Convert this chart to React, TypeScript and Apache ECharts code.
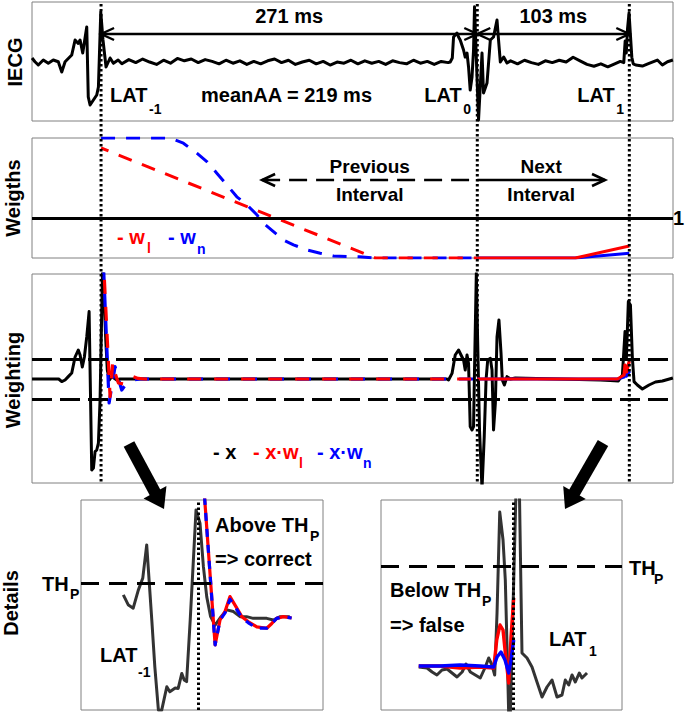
import React, { useEffect, useRef } from "react";
import * as echarts from "echarts";

// ---------- annotation values ----------
const LAT_MS = [0, 271, 380.5]; // LAT-1, LAT0, LAT1 on the time axis (ms)
const LAT_SUBS = ["-1", "0", "1"];
const INTERVAL_LABELS = ["271 ms", "103 ms"];
const MEAN_AA = "meanAA = 219 ms";
const PREV_ARROW_FROM = 116; // ms, tip of "Previous Interval" arrow
const NEXT_ARROW_TO = 363; // ms, tip of "Next Interval" arrow
const WEIGHT_REF = 1;
const TH_P = 1;

// ---------- panel 1 : raw IECG [ms, a.u.] ----------
const iecg: number[][] = [
  [-49.7, 0.67], [-47.6, 0.05], [-45.2, -0.5], [-41.6, 0.33], [-38.0, -0.22], [-34.4, 0.33], [-30.8, 0.05],
  [-28.3, -1.67], [-25.9, 0.05], [-21.1, 1.17], [-18.7, 3.67], [-16.4, 3.1], [-15.1, 3.67], [-13.2, 1.5],
  [-10.3, 5.83], [-9.2, -5.83], [-7.9, -7.17], [-5.5, -6.33], [-3.1, -5.5], [-1.9, -4.17], [-0.2, 8.33],
  [1.4, 3.67], [3.6, -0.83], [6.5, 0.67], [8.9, -0.22], [12.3, 0.33],
  [15, -0.3], [20, 0.4], [25, -0.1], [30, 0.5], [35, 0.0], [40, -0.4], [45, 0.3], [50, -0.2], [55, 0.6],
  [60, 0.2], [65, 0.5], [70, -0.1], [75, 0.4], [80, 0.1], [85, -0.3], [90, 0.3], [95, -0.2], [100, 0.2],
  [105, -0.4], [110, 0.1], [115, -0.3], [120, 0.2], [125, 0.5], [130, -0.1], [135, 0.3], [140, -0.4],
  [145, 0.0], [150, 0.3], [155, -0.3], [160, 0.1], [165, -0.5], [170, 0.0], [175, -0.2], [180, 0.3],
  [185, -0.3], [190, 0.2], [195, -0.2], [200, 0.1], [205, -0.4], [210, 0.2], [215, -0.1], [220, -0.3],
  [225, 0.3], [230, -0.2], [235, 0.1], [240, -0.4], [245, 0.1], [250, -0.1],
  [251.5, 0], [253, 0.67], [253.9, 4.17], [256.4, 4.83], [257.5, 4.17], [258.7, 3.67], [261.1, 2.0],
  [262.3, 0.83], [263.6, 1.5], [264.7, -0.83], [265.9, -4.67], [267.2, -2.5], [268.3, 2.0], [269.0, 9.2],
  [270.8, -2.5], [271.9, -9.67], [273.2, -3.83], [274.4, 1.5], [275.5, -5.17], [278.0, -3.5], [280.4, 3.67],
  [282.7, 4.17], [285.2, 7.0], [286.3, 3.67], [287.6, 0], [290.0, 0.83], [292.4, -0.17],
  [295, 0.2], [300, -0.3], [305, 0.3], [310, -0.1], [315, -0.4], [320, 0.2], [325, -0.1], [330, 0.3],
  [335, 0.0], [340, 0.8], [345, 0.2], [350, -0.4], [355, -0.7], [360, -0.3], [365, -0.8], [370, -0.3],
  [374, 0.1], [376.5, -0.1], [377.5, 3.5], [378.3, 1.5], [379.2, 5.5], [380.3, 8.2], [381.3, 4.5],
  [382.3, 0.8], [383.3, -0.3], [385.1, -0.5], [389.9, -0.67], [394.7, -0.22], [400.7, 0.33],
  [404.3, -0.5], [408, 0.05], [411.9, 0.33],
];

// ---------- panel 2 : weights ----------
const wlPrev: number[][] = [[0, 2.75], [197.5, 0], [271, 0]];
const wnPrev: number[][] = [
  [0, 3], [49.7, 3], [59.3, 2.87], [69, 2.62], [76.2, 2.41], [83.4, 2.12], [90.6, 1.83], [97.8, 1.53],
  [105, 1.33], [112.2, 1.08], [117, 0.87], [124.2, 0.66], [131.4, 0.45], [138.6, 0.33], [148.3, 0.2],
  [157.9, 0.12], [167.4, 0.05], [186, 0.03], [197.5, 0], [271, 0],
];
const wlNext: number[][] = [[271, 0], [341.6, 0], [380.5, 0.3]];
const wnNext: number[][] = [[271, 0], [341.6, 0], [380.5, 0.12]];

// ---------- panel 3 : weighting ----------
const xSig: number[][] = [
  [-49.7, 0], [-30.5, 0], [-28.3, -0.13], [-25.9, -0.05], [-23.6, 0.12], [-21.1, 0.3], [-18.7, 1.1],
  [-16.4, 1.45], [-15.1, 1.2], [-13.5, 0.6], [-12.0, 1.1], [-10.3, 2.1], [-8.6, 3.37], [-7.9, 0.45],
  [-6.7, -4.55], [-5.5, -4.45], [-4.3, -3.63], [-3.1, -3.55], [-1.9, -3.2], [-0.7, -1.05], [1.2, 5.95],
  [3.4, 1.95], [4.5, 0.45], [6.0, -0.05], [7.7, 0.12], [11.3, -0.05], [13.7, 0], [249.1, 0],
  [250.3, -0.05], [252.8, 0.28], [255.1, 1.2], [257.5, 1.45], [260, 1.1], [261.1, 0.95], [262.3, 0.45],
  [263.6, 1.2], [264.7, 0.78], [265.9, -2.38], [267.2, -2.55], [268.3, -2.38], [269.0, 0.45],
  [270.3, 5.3], [271.2, 2.1], [272.6, -2.55], [274.4, -5.5], [276.0, -2.88], [277.3, -0.05], [278.5, 0.95],
  [280.4, 1.03], [281.6, 0.45], [282.7, -2.55], [284.0, -1.22], [285.2, 2.1], [286.6, 2.95], [288.1, 1.28],
  [289.0, -0.05], [290.5, -0.3], [292.4, 0.12], [294.8, 0], [298.4, 0.05], [359.6, -0.05], [366.8, -0.08],
  [372.6, -0.1], [375.5, 0.2], [377.4, 2.37], [378.4, 1.05], [379.8, 3.87], [381.3, 3.7], [382.7, 1.05],
  [383.9, -0.13], [386.3, -0.3], [389.9, -0.5], [394.7, -0.3], [399.3, -0.15], [404.3, -0.1], [411.9, 0.05],
];
const xwlPrev: number[][] = [
  [1.0, 7], [6.5, -0.88], [8.4, 0.8], [10.1, 0.3], [12.5, -0.2], [16.1, -0.25], [19.7, -0.05],
  [23.1, 0.12], [26.7, 0.03], [31.7, 0], [271, 0],
];
const xwnPrev: number[][] = [
  [1.0, 7], [5.8, -1.2], [10.1, 0.62], [12.3, 0.05], [14.9, -0.55], [18.5, -0.2], [23.1, -0.05],
  [28.1, 0], [271, 0],
];
const xwlNext: number[][] = [[271, 0], [372, 0], [376.7, 0.2], [377.4, 0.7], [378.5, 0.35], [380.3, 0.85], [380.6, 0.8]];
const xwnNext: number[][] = [[271, 0], [372, 0], [376.7, 0.1], [377.4, 0.3], [378.5, 0.15], [380.3, 0.35], [380.6, 0.3]];

// ---------- panel 4 : details around LAT-1 (ms relative to LAT-1) ----------
const detLBlack: number[][] = [
  [-12.45, 0.65], [-11.6, 0.35], [-10.8, 0.26], [-9.95, 0.79], [-9.2, 1.15], [-8.55, 2.12], [-7.7, -0.09],
  [-7.2, -1.46], [-6.6, -2.74], [-6.05, -2.74], [-5.2, -2.05], [-4.7, -2.2], [-3.8, -2.09], [-3.3, -2.1],
  [-2.7, -1.66], [-2.3, -1.85], [-1.9, -1.9], [-1.3, -0.09], [-0.33, 3.15], [0.33, 2.76], [0.9, 1.48],
  [1.45, 0.6], [2.1, 0.01], [2.85, -0.24], [3.67, -0.03], [4.8, 0.21], [5.9, 0.16], [7.0, 0.01], [8.1, 0.01],
  [9.2, -0.04], [10.3, -0.04], [11.45, -0.04], [12.55, -0.09], [13.7, 0.01], [15.3, 0.01],
];
const detLRed: number[][] = [
  [0.9, 4.0], [2.85, -0.82], [3.67, -0.09], [4.5, 0.16], [5.33, 0.6], [6.17, 0.35], [7.3, 0.01],
  [8.4, -0.14], [9.8, -0.29], [11.45, -0.33], [12.3, -0.19], [13.1, -0.04], [14.2, 0.01], [15.6, -0.03],
];
const detLBlue: number[][] = [
  [0.9, 4.0], [2.85, -0.82], [3.67, -0.09], [4.5, 0.12], [5.33, 0.52], [6.17, 0.3], [7.3, -0.02],
  [8.4, -0.17], [9.8, -0.33], [11.45, -0.33], [12.3, -0.19], [13.1, -0.04], [14.2, 0.01], [15.6, -0.03],
];

// ---------- panel 5 : details around LAT1 (ms relative to LAT1) ----------
const detRBlack: number[][] = [
  [-15.83, -0.01], [-14.45, -0.02], [-13.6, -0.06], [-12.8, -0.09], [-11.95, -0.04], [-11.1, -0.03],
  [-10.28, -0.07], [-9.45, -0.11], [-8.6, -0.06], [-7.95, 0.02], [-7.23, -0.06], [-6.4, -0.09],
  [-5.57, -0.12], [-4.73, -0.01], [-4.17, 0.08], [-3.62, 0.01], [-3.17, -0.09], [-2.78, 0.53],
  [-2.33, 1.54], [-1.78, 1.26], [-1.4, 0.86], [-1.0, -0.07], [-0.83, -0.5], [-0.57, -0.5], [0.38, 1.75],
  [0.95, 1.75], [1.38, 0.13], [2.22, 0.08], [3.05, -0.01], [3.88, -0.16], [4.72, -0.31], [5.55, -0.21],
  [6.38, -0.14], [7.22, -0.31], [8.05, -0.29], [8.6, -0.14], [9.17, -0.19], [9.72, -0.09], [10.27, -0.16],
  [10.93, -0.07], [11.38, -0.12], [12.22, -0.07],
];
const detRRed: number[][] = [
  [-15.83, 0], [-12.28, 0], [-8.95, -0.02], [-5.6, -0.01], [-3.33, -0.02], [-2.83, 0.26], [-2.28, 0.41],
  [-1.78, 0.36], [-1.33, 0.09], [-0.83, -0.17], [-0.45, 0.29], [0, 0.68],
];
const detRBlue: number[][] = [
  [-15.83, 0], [-12.28, 0], [-8.95, 0.01], [-5.6, 0], [-3.33, -0.01], [-2.78, 0.09], [-2.12, 0.14],
  [-1.45, 0.06], [-0.83, -0.07], [-0.45, 0.06], [0, 0.26],
];

const FONT = '"Liberation Sans", Arial, Helvetica, sans-serif';
const RED = "#ff0000";
const BLUE = "#0000ff";
const DARK = "#333333";

export default function App() {
  const ref = useRef<HTMLDivElement>(null);

  useEffect(() => {
    const chart = echarts.init(ref.current!, null, { renderer: "svg" });

    const gridBoxes = [
      { left: 32, top: 2, width: 641, height: 119 },
      { left: 32, top: 138, width: 641, height: 120 },
      { left: 32, top: 274, width: 641, height: 209 },
      { left: 81, top: 500, width: 242, height: 210 },
      { left: 381, top: 500, width: 241, height: 210 },
    ];
    const xRanges = [
      [-49.73, 411.96], [-49.73, 411.96], [-49.73, 411.96], [-19.5, 20.83], [-22.12, 18.05],
    ];
    const yRanges = [[-9.83, 10], [0, 3], [-5.2, 5.25], [-2.735, 3.441], [-0.44, 1.66]];

    const line = (data: number[][], idx: number, color: string, width: number, dash: any = "solid", z = 2, extra: any = {}) => ({
      type: "line",
      xAxisIndex: idx,
      yAxisIndex: idx,
      data,
      symbol: "none",
      showSymbol: false,
      silent: true,
      clip: true,
      z,
      lineStyle: { color, width, type: dash, cap: "butt", join: "round", ...extra },
    });

    const refLine = (idx: number, ml: any, lineStyle: any, z = 1) => ({
      type: "line",
      xAxisIndex: idx,
      yAxisIndex: idx,
      data: [],
      silent: true,
      z,
      markLine: {
        silent: true,
        symbol: ["none", "none"],
        label: { show: false },
        animation: false,
        lineStyle,
        data: [ml],
      },
    });

    const option: any = {
      animation: false,
      backgroundColor: "#ffffff",
      grid: gridBoxes.map((g) => ({ ...g, show: true, borderColor: "#808080", borderWidth: 1, backgroundColor: "transparent" })),
      xAxis: xRanges.map((r, i) => ({ type: "value", gridIndex: i, min: r[0], max: r[1], show: false })),
      yAxis: yRanges.map((r, i) => ({ type: "value", gridIndex: i, min: r[0], max: r[1], show: false })),
      series: [
        // panel 1
        line(iecg, 0, "#000", 3),
        // panel 2
        refLine(1, { yAxis: WEIGHT_REF }, { color: "#000", width: 2.8, type: "solid" }),
        line(wnPrev, 1, BLUE, 3, [14, 11], 3),
        line(wlPrev, 1, RED, 3, [14, 11], 4, { dashOffset: 6 }),
        line(wnNext, 1, BLUE, 3, "solid", 3),
        line(wlNext, 1, RED, 3, "solid", 4),
        // panel 3
        refLine(2, { yAxis: TH_P }, { color: "#000", width: 2.8, type: [20, 8] }),
        refLine(2, { yAxis: -TH_P }, { color: "#000", width: 2.8, type: [20, 8] }),
        line(xSig, 2, "#000", 3, "solid", 2),
        line(xwnPrev, 2, BLUE, 3.2, [14, 13], 3),
        line(xwlPrev, 2, RED, 3.2, [14, 13], 4, { dashOffset: 13 }),
        line(xwnNext, 2, BLUE, 3.2, "solid", 3),
        line(xwlNext, 2, RED, 3.2, "solid", 4),
        // panel 4
        refLine(3, { yAxis: TH_P }, { color: "#000", width: 2.8, type: [18, 10] }),
        line(detLBlack, 3, DARK, 3, "solid", 2),
        line(detLRed, 3, RED, 3.2, "solid", 3),
        line(detLBlue, 3, BLUE, 3.2, [8, 8], 4),
        refLine(3, { xAxis: 0 }, { color: "#000", width: 3, type: [2.5, 2.5] }, 6),
        // panel 5
        refLine(4, { yAxis: TH_P }, { color: "#000", width: 2.8, type: [18, 10] }),
        line(detRBlack, 4, DARK, 3, "solid", 2),
        line(detRRed, 4, RED, 3.4, "solid", 3),
        line(detRBlue, 4, BLUE, 3.4, "solid", 4),
        refLine(4, { xAxis: 0 }, { color: "#000", width: 3, type: [2.5, 2.5] }, 6),
      ],
    };
    chart.setOption(option);

    const px = (axis: number, v: number) => chart.convertToPixel({ xAxisIndex: axis }, v) as number;
    const latX = LAT_MS.map((v) => px(0, v));

    const els: any[] = [];
    const text = (x: number, y: number, s: string, opt: any = {}) => {
      const size = opt.size ?? 20;
      const align = opt.align ?? "left";
      els.push({
        type: "text",
        x,
        y,
        rotation: opt.rotation ?? 0,
        z: 120,
        silent: true,
        style: {
          text: s,
          x: 0,
          y: 0,
          fill: opt.color ?? "#000",
          fontSize: size,
          fontWeight: "bold",
          fontFamily: FONT,
          align,
          verticalAlign: "middle",
          textAlign: align,
          textVerticalAlign: "middle",
        },
      });
    };
    const seg = (x1: number, y1: number, x2: number, y2: number, w: number, dash?: number[], color = "#000") => {
      els.push({
        type: "line",
        z: 110,
        silent: true,
        shape: { x1, y1, x2, y2 },
        style: { stroke: color, lineWidth: w, lineDash: dash ?? null, lineCap: "butt" },
      });
    };
    const chevron = (tipX: number, y: number, dir: number, w = 2.4) => {
      const L = 13, H = 6;
      els.push({
        type: "polyline",
        z: 111,
        silent: true,
        shape: { points: [[tipX - dir * L, y - H], [tipX, y], [tipX - dir * L, y + H]] },
        style: { stroke: "#000", lineWidth: w, fill: null, lineJoin: "miter" },
      });
    };
    const bigArrow = (sx: number, sy: number, tx: number, ty: number) => {
      const dx = tx - sx, dy = ty - sy;
      const len = Math.hypot(dx, dy);
      const ux = dx / len, uy = dy / len;
      const nx = -uy, ny = ux;
      const HL = 19, HW = 13;
      const bx = tx - ux * HL, by = ty - uy * HL;
      seg(sx, sy, bx + ux * 2, by + uy * 2, 12);
      els.push({
        type: "polygon",
        z: 111,
        silent: true,
        shape: { points: [[tx, ty], [bx + nx * HW, by + ny * HW], [bx - nx * HW, by - ny * HW]] },
        style: { fill: "#000" },
      });
    };

    // dotted LAT markers through the three upper panels
    latX.forEach((x) => seg(x, 4, x, 484, 3, [2.5, 2.5]));

    // interval arrows in panel 1
    const arrowY = 34;
    seg(latX[0], arrowY, latX[2], arrowY, 2.4);
    chevron(latX[0], arrowY, -1);
    chevron(latX[1], arrowY, 1);
    chevron(latX[1], arrowY, -1);
    chevron(latX[2], arrowY, 1);
    text((latX[0] + latX[1]) / 2, 16, INTERVAL_LABELS[0], { align: "center" });
    text((latX[1] + latX[2]) / 2, 16, INTERVAL_LABELS[1], { align: "center" });

    // LAT labels in panel 1
    const latLabelX = [latX[0] + 9, latX[1] - 53, latX[2] - 52];
    latLabelX.forEach((x, i) => {
      text(x, 95, "LAT");
      text(x + 39, 109, LAT_SUBS[i], { size: 14 });
    });
    text(201, 95, MEAN_AA);

    // panel 2 arrows and labels
    const prevX = px(1, PREV_ARROW_FROM);
    const nextX = px(1, NEXT_ARROW_TO);
    seg(prevX, 180, latX[1], 180, 2.6, [18, 9]);
    seg(latX[1], 180, nextX, 180, 2.6);
    chevron(prevX, 180, -1, 2.6);
    chevron(nextX, 180, 1, 2.6);
    text((prevX + latX[1]) / 2, 166, "Previous", { align: "center", size: 19 });
    text((prevX + latX[1]) / 2, 194, "Interval", { align: "center", size: 19 });
    text((latX[1] + nextX) / 2, 166, "Next", { align: "center", size: 19 });
    text((latX[1] + nextX) / 2, 194, "Interval", { align: "center", size: 19 });
    text(117, 237, "- w", { color: RED });
    text(147, 248, "l", { color: RED, size: 14 });
    text(168, 237, "- w", { color: BLUE });
    text(197, 249, "n", { color: BLUE, size: 14 });
    text(684, 218, "1", { align: "right" });

    // panel 3 legend
    text(213, 452, "- x");
    text(253, 452, "- x·w", { color: RED });
    text(299, 463, "l", { color: RED, size: 14 });
    text(317, 452, "- x·w", { color: BLUE });
    text(363, 463, "n", { color: BLUE, size: 14 });

    // big arrows towards details
    bigArrow(129, 444, 164, 509);
    bigArrow(603, 443, 565, 509);

    // details texts
    text(42, 584, "TH");
    text(70, 594, "P", { size: 14 });
    text(215, 525, "Above TH");
    text(310, 536, "P", { size: 14 });
    text(215, 559, "=> correct");
    text(100, 655, "LAT");
    text(138, 672, "-1", { size: 14 });
    text(629, 568, "TH");
    text(654, 579, "P", { size: 14 });
    text(390, 590, "Below TH");
    text(482, 601, "P", { size: 14 });
    text(390, 625, "=> false");
    text(549, 639, "LAT");
    text(589, 651, "1", { size: 14 });

    // panel titles (rotated)
    const rot = Math.PI / 2;
    text(15, 62, "IECG", { align: "center", rotation: rot });
    text(13, 198, "Weigths", { align: "center", rotation: rot });
    text(13, 380, "Weighting", { align: "center", rotation: rot });
    text(11, 603, "Details", { align: "center", rotation: rot });

    chart.setOption({ graphic: { elements: els } });

    return () => chart.dispose();
  }, []);

  return <div ref={ref} style={{ position: "absolute", left: 0, top: 0, width: 685, height: 715 }} />;
}
